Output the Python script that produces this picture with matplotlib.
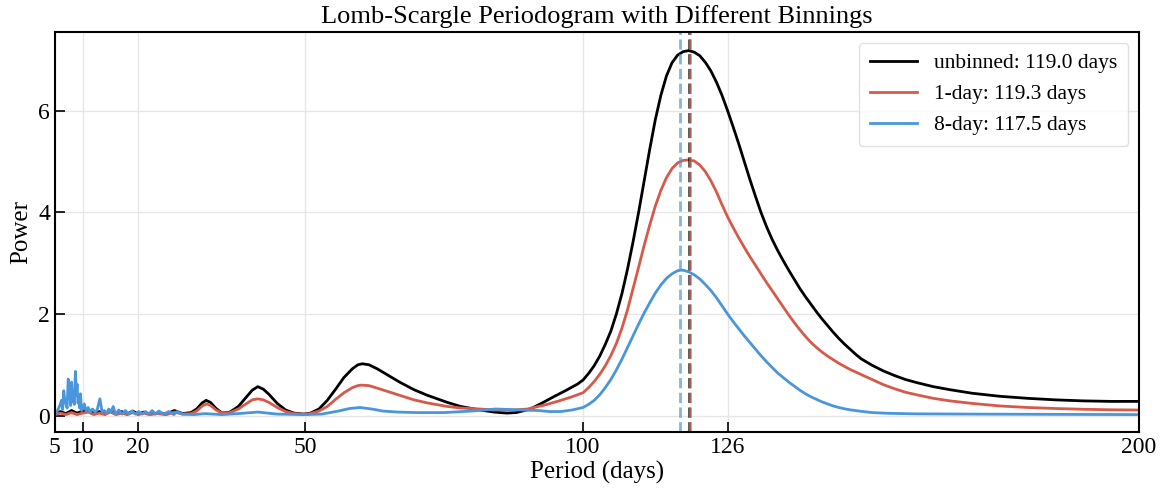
import matplotlib.pyplot as plt

plt.rcParams["font.family"] = ["Liberation Serif", "DejaVu Serif"]

# unbinned periodogram (period in days, power)
period_unbinned = [
    5.0, 6.0, 7.0, 8.0, 9.0, 10.0, 11.0, 12.0, 13.0, 14.0, 15.0, 16.0, 17.0,
    18.0, 19.0, 20.0, 21.0, 22.0, 23.5, 25.0, 26.5, 28.0, 29.5, 30.5, 31.5,
    32.2, 33.0, 34.0, 35.1, 36.5, 38.0, 39.5, 40.5, 41.5, 42.5, 43.5, 45.0,
    46.5, 48.0, 49.8, 51.0, 52.5, 54.0, 55.5, 57.0, 58.5, 59.5, 60.3, 61.5,
    63.0, 65.0, 67.0, 69.6, 72.0, 75.6, 78.0, 81.5, 84.0, 86.3, 88.0, 90.5,
    92.5, 94.7, 97.0, 99.0,
    100, 101, 102, 103, 104, 105, 106, 107, 108, 109, 110, 111, 112, 113,
    114, 115, 116, 117, 118, 119, 120, 121, 122, 123, 124, 125, 126, 127,
    128, 129, 130, 131, 132, 133, 134, 135, 136, 137, 138, 139, 140, 141,
    142, 143, 144, 145, 146, 147, 148, 149, 150,
    152, 154, 156, 158, 160, 163, 166, 170, 175, 180, 185, 190, 195, 200,
]
power_unbinned = [
    0.05, 0.08, 0.04, 0.10, 0.05, 0.09, 0.12, 0.04, 0.08, 0.03, 0.10, 0.04,
    0.08, 0.03, 0.09, 0.03, 0.07, 0.03, 0.05, 0.03, 0.10, 0.04, 0.06, 0.13,
    0.25, 0.30, 0.26, 0.14, 0.05, 0.07, 0.18, 0.37, 0.50, 0.57, 0.52, 0.42,
    0.24, 0.11, 0.05, 0.03, 0.05, 0.13, 0.30, 0.52, 0.75, 0.92, 1.00, 1.02,
    1.00, 0.92, 0.79, 0.66, 0.51, 0.40, 0.26, 0.18, 0.11, 0.07, 0.05, 0.06,
    0.13, 0.24, 0.37, 0.50, 0.62,
    0.70, 0.83, 0.98, 1.17, 1.40, 1.66, 2.00, 2.40, 2.88, 3.42, 4.00, 4.62,
    5.24, 5.82, 6.30, 6.68, 6.94, 7.09, 7.16, 7.18, 7.15, 7.08, 6.95, 6.78,
    6.56, 6.30, 6.00, 5.68, 5.35, 5.00, 4.65, 4.32, 4.00, 3.72, 3.47, 3.25,
    3.05, 2.86, 2.68, 2.50, 2.34, 2.19, 2.04, 1.90, 1.77, 1.64, 1.52, 1.41,
    1.31, 1.21, 1.12,
    0.99, 0.88, 0.79, 0.71, 0.65, 0.57, 0.51, 0.44, 0.38, 0.34, 0.31, 0.29,
    0.28, 0.28,
]

# 1-day binning
period_1day = [
    5.0, 6.0, 7.0, 8.0, 9.0, 10.0, 11.0, 12.0, 13.0, 14.0, 15.0, 16.0, 17.0,
    18.0, 19.0, 20.0, 21.0, 22.0, 23.5, 25.0, 26.5, 28.0, 29.5, 30.5, 31.5,
    32.3, 33.0, 34.0, 35.1, 36.5, 38.0, 39.5, 40.5, 41.5, 42.5, 43.5, 45.0,
    46.5, 48.0, 49.8, 51.0, 52.5, 54.0, 55.5, 57.0, 58.5, 59.5, 60.1, 61.5,
    63.0, 65.0, 67.0, 69.6, 72.0, 75.6, 78.0, 81.5, 84.0, 87.5, 90.0, 93.5,
    96.0, 98.0, 99.0,
    100, 101, 102, 103, 104, 105, 106, 107, 108, 109, 110, 111, 112, 113,
    114, 115, 116, 117, 118, 119, 120, 121, 122, 123, 124, 125, 126, 127,
    128, 129, 130, 131, 132, 133, 134, 135, 136, 137, 138, 139, 140, 141,
    142, 143, 144, 145, 146, 147, 148, 149, 150,
    152, 154, 156, 158, 160, 163, 166, 170, 175, 180, 185, 190, 195, 200,
]
power_1day = [
    0.02, 0.05, 0.02, 0.06, 0.02, 0.05, 0.07, 0.02, 0.05, 0.02, 0.07, 0.02,
    0.05, 0.02, 0.06, 0.02, 0.05, 0.02, 0.04, 0.02, 0.07, 0.03, 0.04, 0.09,
    0.19, 0.23, 0.20, 0.11, 0.05, 0.06, 0.13, 0.24, 0.31, 0.33, 0.31, 0.26,
    0.16, 0.08, 0.04, 0.03, 0.04, 0.09, 0.18, 0.32, 0.45, 0.55, 0.59, 0.60,
    0.59, 0.54, 0.47, 0.40, 0.31, 0.25, 0.18, 0.15, 0.13, 0.11, 0.11, 0.13,
    0.22, 0.30, 0.37, 0.41,
    0.45, 0.55, 0.67, 0.81, 0.98, 1.18, 1.42, 1.72, 2.08, 2.50, 2.92, 3.35,
    3.75, 4.12, 4.43, 4.68, 4.86, 4.97, 5.02, 5.03, 5.01, 4.93, 4.80, 4.62,
    4.40, 4.15, 3.91, 3.70, 3.50, 3.31, 3.13, 2.96, 2.79, 2.62, 2.46, 2.30,
    2.14, 1.98, 1.83, 1.69, 1.56, 1.44, 1.34, 1.25, 1.17, 1.10, 1.03, 0.97,
    0.91, 0.86, 0.81,
    0.71, 0.61, 0.53, 0.46, 0.41, 0.34, 0.29, 0.24, 0.19, 0.16, 0.14, 0.125,
    0.115, 0.11,
]

# 8-day binning
period_8day = [
    5.0, 5.4, 5.9, 6.2, 6.4, 6.6, 6.8, 7.0, 7.2, 7.4, 7.6, 7.7, 7.85, 8.0,
    8.2, 8.35, 8.5, 8.7, 8.85, 9.0, 9.15, 9.3, 9.45, 9.6, 9.8, 10.0, 10.3,
    10.6, 11.0, 11.3, 11.75, 12.2, 12.6, 13.1, 13.5, 13.9, 14.4, 14.7, 15.1,
    15.5, 15.9, 16.5, 17.1, 17.7, 18.3, 18.9, 19.5, 20.1, 20.7, 21.3, 21.9,
    22.5, 23.1, 23.7, 24.6, 25.5, 26.4, 27.0, 27.9, 30.0, 32.0, 35.0, 38.0,
    41.5, 45.0, 50.0, 53.0, 56.0, 58.0, 59.9, 62.0, 64.0, 66.6, 70.0, 75.0,
    80.0, 84.3, 87.0, 89.0, 92.0, 94.0, 96.0, 98.0,
    100, 101, 102, 103, 104, 105, 106, 107, 108, 109, 110, 111, 112, 113,
    114, 115, 116, 117, 117.5, 118, 119, 120, 121, 122, 123, 124, 125, 126,
    127, 128, 129, 130, 131, 132, 133, 134, 135, 136, 137, 138, 139, 140,
    141, 142, 143, 144, 145, 146, 147, 148, 150,
    152, 155, 160, 170, 185, 200,
]
power_8day = [
    0.03, 0.08, 0.20, 0.30, 0.12, 0.49, 0.30, 0.23, 0.15, 0.72, 0.40, 0.43,
    0.20, 0.66, 0.28, 0.36, 0.22, 0.87, 0.40, 0.62, 0.25, 0.30, 0.15, 0.43,
    0.10, 0.13, 0.23, 0.10, 0.16, 0.07, 0.13, 0.07, 0.11, 0.33, 0.07, 0.10,
    0.05, 0.13, 0.07, 0.18, 0.03, 0.11, 0.03, 0.10, 0.03, 0.09, 0.03, 0.08,
    0.03, 0.08, 0.03, 0.10, 0.03, 0.09, 0.03, 0.08, 0.02, 0.08, 0.03, 0.02,
    0.04, 0.02, 0.04, 0.07, 0.03, 0.02, 0.03, 0.09, 0.14, 0.16, 0.13, 0.09,
    0.07, 0.06, 0.06, 0.09, 0.13, 0.12, 0.11, 0.10, 0.08, 0.08, 0.11,
    0.16, 0.22, 0.30, 0.41, 0.55, 0.71, 0.90, 1.11, 1.34, 1.57, 1.80, 2.02,
    2.22, 2.41, 2.57, 2.70, 2.79, 2.85, 2.86, 2.86, 2.83, 2.77, 2.69, 2.58,
    2.46, 2.32, 2.16, 2.00, 1.85, 1.71, 1.57, 1.44, 1.31, 1.18, 1.06, 0.95,
    0.84, 0.75, 0.66, 0.58, 0.50, 0.43, 0.37, 0.32, 0.27, 0.23, 0.19, 0.16,
    0.135, 0.115, 0.085,
    0.06, 0.045, 0.035, 0.03, 0.025, 0.02,
]

best_unbinned = 119.0
best_1day = 119.3
best_8day = 117.5

xticks = [5, 10, 20, 50, 100, 126, 200]
yticks = [0, 2, 4, 6]

c_black = "#000000"
c_red = "#d65a4a"
c_blue = "#4a96dc"

fig = plt.figure(figsize=(11.67, 4.97), dpi=100)
ax = fig.add_axes([0.047, 0.131, 0.929, 0.805])

ax.plot(period_unbinned, power_unbinned, color=c_black, lw=2,
        label=f"unbinned: {best_unbinned:.1f} days")
ax.plot(period_1day, power_1day, color=c_red, lw=2,
        label=f"1-day: {best_1day:.1f} days")
ax.plot(period_8day, power_8day, color=c_blue, lw=2,
        label=f"8-day: {best_8day:.1f} days")

ax.axvline(best_8day, color=c_blue, ls="--", lw=2, alpha=0.7)
ax.axvline(best_unbinned, color=c_black, ls="--", lw=2, alpha=0.7)
ax.axvline(best_1day, color=c_red, ls="--", lw=2, alpha=0.7)

ax.set_xlim(5, 200)
ax.set_ylim(-0.32, 7.55)
ax.set_xticks(xticks)
ax.set_yticks(yticks)
ax.tick_params(direction="in", length=7, width=1.2, labelsize=17)
for s in ax.spines.values():
    s.set_linewidth(1.5)
ax.grid(True, color="#e6e6e6", lw=1)
ax.set_axisbelow(True)

ax.set_xlabel("Period (days)", fontsize=18, labelpad=2)
ax.set_ylabel("Power", fontsize=18)
ax.set_title("Lomb-Scargle Periodogram with Different Binnings", fontsize=19,
             pad=6)

leg = ax.legend(loc="upper right", fontsize=15.5, frameon=True,
                fancybox=True, borderpad=0.5, handlelength=2.2)
leg.get_frame().set_edgecolor("#d9d9d9")

fig.savefig("out.png", dpi=100)
plt.close(fig)
